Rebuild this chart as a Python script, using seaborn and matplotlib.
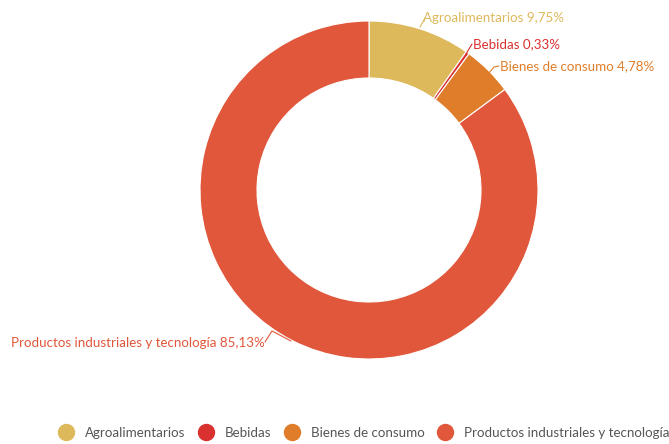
import matplotlib
matplotlib.use("Agg")
import matplotlib.pyplot as plt
from matplotlib.lines import Line2D
import seaborn as sns

# Data
categories = ["Agroalimentarios", "Bebidas", "Bienes de consumo", "Productos industriales y tecnología"]
shares = [9.75, 0.33, 4.78, 85.13]
colors = ["#DEB95C", "#D93030", "#E07D2A", "#E0573B"]
share_labels = ["9,75%", "0,33%", "4,78%", "85,13%"]

sns.set_theme(style="white")
plt.rcParams["font.family"] = ["Lato", "DejaVu Sans"]

fig = plt.figure(figsize=(6.69, 4.44), dpi=100)
ax = fig.add_axes([0, 0, 1, 1])

# donut centre in pixel coordinates (y from bottom)
cx, cy = 369, 444 - 190
ax.pie(shares, colors=colors, startangle=90, counterclock=False,
       center=(cx, cy), radius=169,
       wedgeprops=dict(width=57, edgecolor="white", linewidth=0.8),
       frame=True)
ax.set_xlim(0, 669)
ax.set_ylim(0, 444)
ax.set_aspect("equal")
ax.axis("off")

# labels with leader lines
lab_font = 9.65
ax.plot([420, 425], [444 - 27, 444 - 18], color=colors[0], lw=0.8)
ax.text(423, 444 - 18, f"{categories[0]} {share_labels[0]}", color=colors[0],
        fontsize=lab_font, va="center", ha="left")

ax.plot([466, 472], [444 - 54, 444 - 44], color=colors[1], lw=0.8)
ax.text(473, 444 - 44, f"{categories[1]} {share_labels[1]}", color=colors[1],
        fontsize=lab_font, va="center", ha="left")

ax.plot([489, 494, 499], [444 - 73, 444 - 67, 444 - 66], color=colors[2], lw=0.8)
ax.text(500, 444 - 66, f"{categories[2]} {share_labels[2]}", color=colors[2],
        fontsize=lab_font, va="center", ha="left")

ax.plot([265, 272, 291], [444 - 342, 444 - 331, 444 - 341], color=colors[3], lw=0.8)
ax.text(265, 444 - 343, f"{categories[3]} {share_labels[3]}", color=colors[3],
        fontsize=lab_font, va="center", ha="right")

# legend
handles = [Line2D([0], [0], marker="o", linestyle="", markersize=11.5,
                  markerfacecolor=c, markeredgecolor=c) for c in colors]
leg = fig.legend(handles, categories, loc="center left", bbox_to_anchor=(58 / 669, 1 - 433 / 444),
                 ncol=4, frameon=False, fontsize=9.65, handletextpad=0.8,
                 columnspacing=0.95, handlelength=1.2, borderpad=0, borderaxespad=0)
for t in leg.get_texts():
    t.set_color("#555555")

fig.savefig("out.png", dpi=100)
